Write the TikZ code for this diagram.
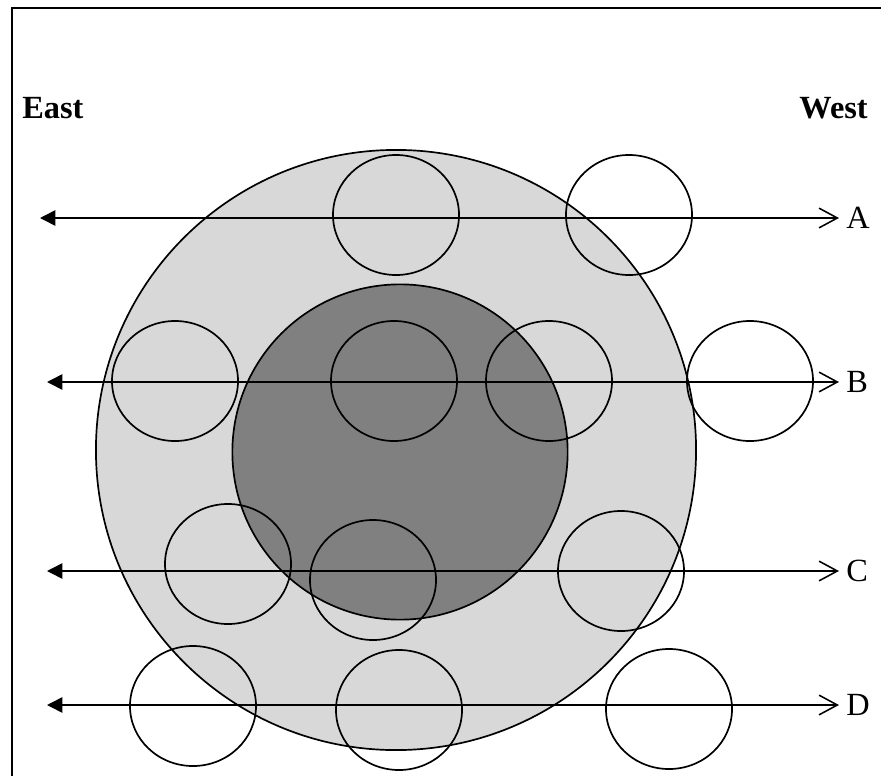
\documentclass[tikz,border=0pt]{standalone}
\usepackage{fontspec}
\setmainfont{Liberation Serif}
\usetikzlibrary{arrows.meta}
\definecolor{zoneLight}{RGB}{216,216,216}
\definecolor{zoneDark}{RGB}{128,128,128}
\tikzset{
  ring/.style={line width=1.2pt},
  flow/.style={line width=1.1pt, {Triangle[length=11pt, width=11pt]}-{Straight Barb[length=13pt, width=14pt]}},
  lane/.style={font=\fontsize{23}{27}\selectfont, inner sep=0pt, anchor=west},
  side/.style={font=\fontsize{23}{27}\selectfont\bfseries, inner sep=0pt}
}
\begin{document}
\begin{tikzpicture}[x=0.025cm, y=-0.025cm]
    \useasboundingbox (0,0) rectangle (881,776);
    % Frame (left and top only)
    \draw[line width=1.6pt] (12,776) |- (881,8);

    % Outer and inner zones
    \draw[ring, fill=zoneLight] (396,450) circle (7.5cm);
    \draw[ring, fill=zoneDark] (400,452) circle (4.19cm);

    % Small rings
    \foreach \x/\y in {396/215, 629/215,
                       175/381, 394/381, 549/381, 750/381,
                       228/564, 373/580, 621/571,
                       193/706, 399/710, 669/709}
        \draw[ring] (\x,\y) ellipse [x radius=1.575cm, y radius=1.5cm];

    % Direction labels
    \node[side, anchor=base west] (east) at (22,118) {East};
    \node[side, anchor=base east] (west) at (868,118) {West};

    % Lanes
    \foreach \name/\y/\xs in {A/218/40, B/382/47, C/571/47, D/705/47} {
        \coordinate (s\name) at (\xs,\y);
        \node[lane] (l\name) at (846,\y) {\name};
        \draw[flow] (s\name) -- ([xshift=-5]l\name.west);
    }
\end{tikzpicture}
\end{document}
